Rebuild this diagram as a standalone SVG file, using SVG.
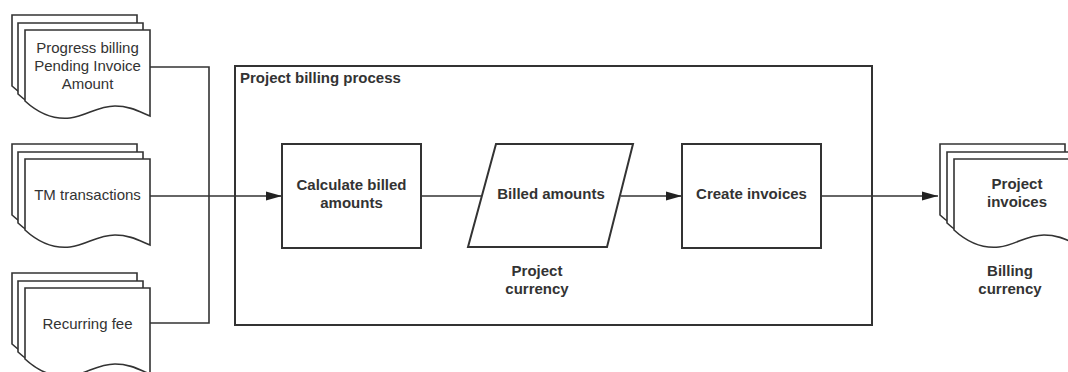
<svg xmlns="http://www.w3.org/2000/svg" width="1068" height="372" viewBox="0 0 1068 372">
<defs>
<style>
.sheet{fill:#fff;stroke:#333;stroke-width:1.6}
.box{fill:#fff;stroke:#333;stroke-width:2}
.conn{fill:none;stroke:#333;stroke-width:1.6}
.t{font-family:"Liberation Sans",Arial,sans-serif;font-size:15px;fill:#333;text-anchor:middle}
.b{font-weight:bold}
</style>
<path id="doc" d="M0,0 H125 V86 C115,82 105,76 90,76 C72,76 62,86 45,88 C26,90 12,82 0,71 Z"/>
<marker id="arr" viewBox="0 0 16 10" refX="16" refY="5" markerWidth="16" markerHeight="10" markerUnits="userSpaceOnUse" orient="auto">
<path d="M0,0.5 L16,5 L0,9.5 Z" fill="#222"/>
</marker>
</defs>
<rect width="1068" height="372" fill="#fff"/>

<g id="connectors">
<path class="conn" d="M150,67 H209 V323 H150"/>
<path class="conn" d="M150,196 H282" marker-end="url(#arr)"/>
<path class="conn" d="M421,196 H482"/>
<path class="conn" d="M621,196 H682" marker-end="url(#arr)"/>
<path class="conn" d="M821,196 H938" marker-end="url(#arr)"/>
</g>

<g id="process-container">
<rect class="box" x="235" y="66" width="637" height="259" fill="none" style="fill:none"/>
<text class="t b" x="240" y="83" style="text-anchor:start">Project billing process</text>
</g>

<g id="doc-progress">
<use href="#doc" class="sheet" x="12" y="15"/>
<use href="#doc" class="sheet" x="18" y="23"/>
<use href="#doc" class="sheet" x="25" y="30"/>
<text class="t" x="87.5" y="52.5">Progress billing</text>
<text class="t" x="87.5" y="70.5">Pending Invoice</text>
<text class="t" x="87.5" y="88.5">Amount</text>
</g>

<g id="doc-tm">
<use href="#doc" class="sheet" x="12" y="144"/>
<use href="#doc" class="sheet" x="18" y="152"/>
<use href="#doc" class="sheet" x="25" y="159"/>
<text class="t" x="87.5" y="200">TM transactions</text>
</g>

<g id="doc-recurring">
<use href="#doc" class="sheet" x="12" y="273"/>
<use href="#doc" class="sheet" x="18" y="281"/>
<use href="#doc" class="sheet" x="25" y="288"/>
<text class="t" x="87.5" y="329">Recurring fee</text>
</g>

<g id="calc">
<rect class="box" x="282" y="144" width="139" height="104"/>
<text class="t b" x="351.5" y="190">Calculate billed</text>
<text class="t b" x="351.5" y="208">amounts</text>
</g>

<g id="billed">
<path class="box" d="M496,144 H633 L607,247 H468 Z"/>
<text class="t b" x="551" y="199">Billed amounts</text>
<text class="t b" x="537" y="276">Project</text>
<text class="t b" x="537" y="294">currency</text>
</g>

<g id="create">
<rect class="box" x="682" y="144" width="139" height="104"/>
<text class="t b" x="751.5" y="199">Create invoices</text>
</g>

<g id="doc-invoices">
<use href="#doc" class="sheet" x="940" y="144"/>
<use href="#doc" class="sheet" x="947" y="152"/>
<use href="#doc" class="sheet" x="954" y="159"/>
<text class="t b" x="1017" y="189">Project</text>
<text class="t b" x="1017" y="207">invoices</text>
<text class="t b" x="1010" y="276">Billing</text>
<text class="t b" x="1010" y="294">currency</text>
</g>
</svg>
